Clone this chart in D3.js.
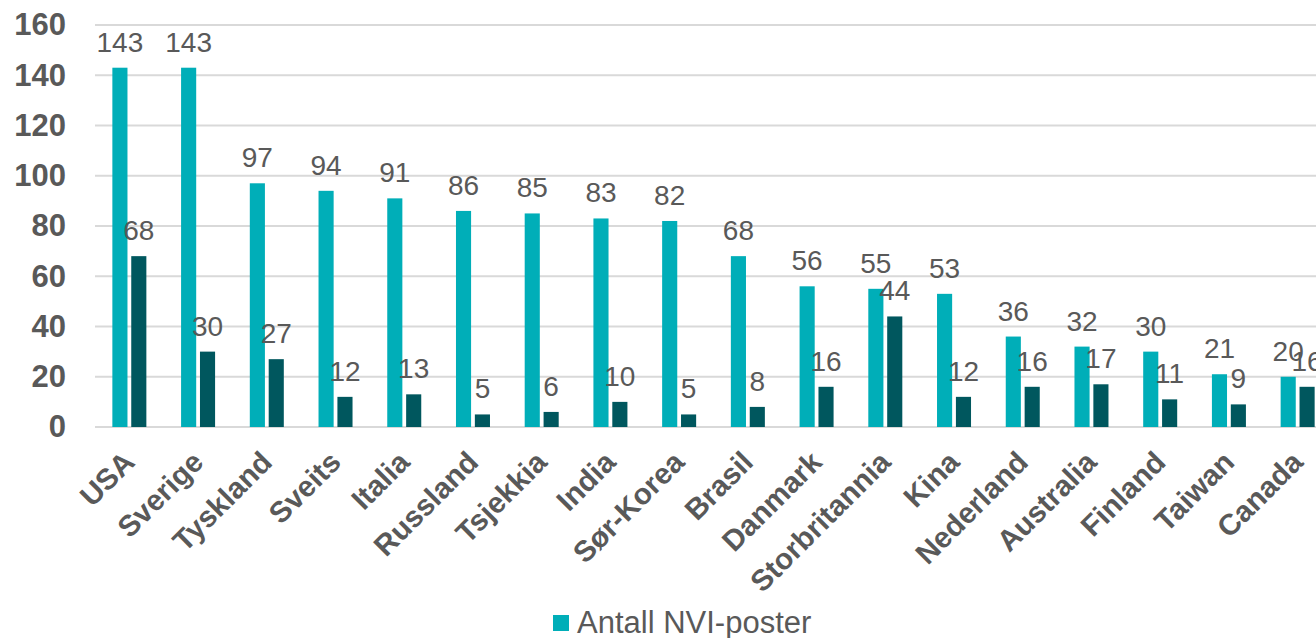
<!DOCTYPE html>
<html>
<head>
<meta charset="utf-8">
<script src="https://cdn.jsdelivr.net/npm/d3@7"></script>
<style>
  html, body { margin: 0; padding: 0; background: #fff; overflow: hidden; }
  svg { display: block; font-family: "Liberation Sans", Arial, sans-serif; }
</style>
</head>
<body>
<svg id="chart" width="1316" height="638"></svg>
<script>
var countries = ['USA', 'Sverige', 'Tyskland', 'Sveits', 'Italia', 'Russland', 'Tsjekkia', 'India', 'Sør-Korea',
  'Brasil', 'Danmark', 'Storbritannia', 'Kina', 'Nederland', 'Australia', 'Finland', 'Taiwan', 'Canada'];
var nviPoster = [143, 143, 97, 94, 91, 86, 85, 83, 82, 68, 56, 55, 53, 36, 32, 30, 21, 20];
var second = [68, 30, 27, 12, 13, 5, 6, 10, 5, 8, 16, 44, 12, 16, 17, 11, 9, 16];
var seriesNames = ['Antall NVI-poster', 'Serie 2'];
var seriesColors = ['#00AEB8', '#00575E'];
var yTicks = [0, 20, 40, 60, 80, 100, 120, 140, 160];

var svg = d3.select('#chart');
var textCol = '#595959';

var x = d3.scaleBand().domain(countries).range([95, 1332]).paddingInner(0).paddingOuter(0);
var bw = x.bandwidth();
var x1 = d3.scaleBand().domain([0, 1]).range([bw / 2 - 17, bw / 2 + 17]).paddingInner(0.2).paddingOuter(0);
var y = d3.scaleLinear().domain([0, 160]).range([427, 25]);

// gridlines
svg.append('g').selectAll('line').data(yTicks).enter().append('line')
  .attr('x1', 95).attr('x2', 1316)
  .attr('y1', function(d) { return y(d); }).attr('y2', function(d) { return y(d); })
  .attr('stroke', '#D9D9D9').attr('stroke-width', 2);

// y axis labels
var yAxis = svg.append('g').attr('transform', 'translate(66,0)')
  .call(d3.axisLeft(y).tickValues(yTicks).tickSize(0).tickPadding(0));
yAxis.select('.domain').remove();
yAxis.selectAll('text').attr('font-size', 31).attr('font-weight', 'bold').attr('fill', textCol)
  .attr('font-family', '"Liberation Sans", Arial, sans-serif');

var rows = countries.map(function(c, i) { return { c: c, v: [nviPoster[i], second[i]] }; });

var groups = svg.append('g').selectAll('g').data(rows).enter().append('g')
  .attr('transform', function(d) { return 'translate(' + x(d.c) + ',0)'; });

groups.selectAll('rect').data(function(d) { return d.v; }).enter().append('rect')
  .attr('x', function(d, i) { return x1(i); })
  .attr('width', x1.bandwidth())
  .attr('y', function(d) { return y(d); })
  .attr('height', function(d) { return y(0) - y(d); })
  .attr('fill', function(d, i) { return seriesColors[i]; });

groups.selectAll('text').data(function(d) { return d.v; }).enter().append('text')
  .attr('x', function(d, i) { return x1(i) + x1.bandwidth() / 2; })
  .attr('y', function(d) { return y(d) - 16; })
  .attr('text-anchor', 'middle')
  .attr('font-size', 28).attr('fill', textCol)
  .text(function(d) { return d; });

// x labels
svg.append('g').selectAll('text').data(countries).enter().append('text')
  .attr('transform', function(d) { return 'translate(' + (x(d) + bw / 2 + 7) + ',464) rotate(-45)'; })
  .attr('text-anchor', 'end')
  .attr('font-size', 29.5).attr('font-weight', 'bold').attr('fill', textCol)
  .text(function(d) { return d; });

// legend
var leg = svg.append('g').attr('transform', 'translate(553,615)');
leg.append('rect').attr('width', 16).attr('height', 16).attr('fill', seriesColors[0]);
leg.append('text').attr('x', 24).attr('y', 18).attr('font-size', 31).attr('fill', textCol)
  .text(seriesNames[0]);
</script>
</body>
</html>
